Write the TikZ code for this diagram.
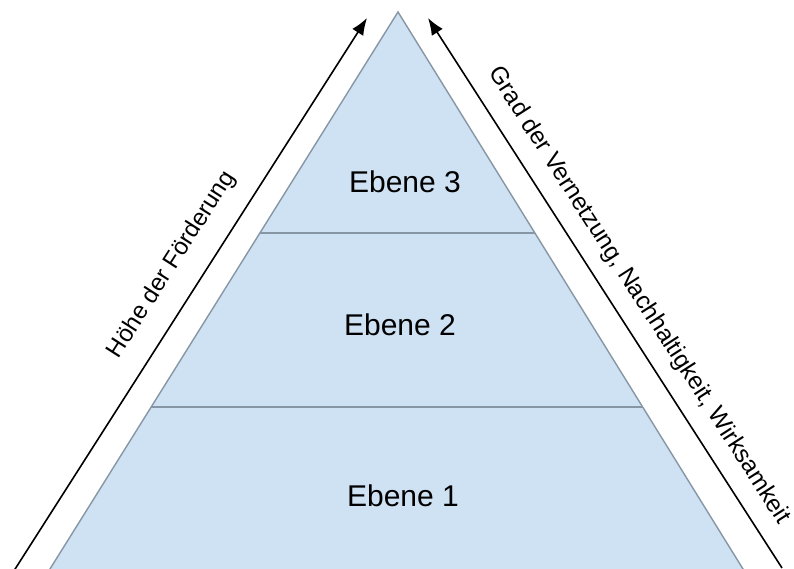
\documentclass[tikz,border=0pt]{standalone}
\usepackage{fontspec}
\setmainfont{Liberation Sans}
\usetikzlibrary{arrows.meta}
\definecolor{pyrfill}{HTML}{CFE2F3}
\definecolor{pyrline}{HTML}{8796A5}
\tikzset{
  level/.style={font=\fontsize{30}{34}\selectfont, anchor=base, inner sep=0pt},
  sidelabel/.style={anchor=base, inner sep=0pt},
  axisarrow/.style={line width=1.6pt, -{Latex[length=17pt,width=13pt]}},
  divider/.style={draw=pyrline, line width=1.8pt},
}
\begin{document}
\begin{tikzpicture}[x=1pt,y=1pt]
\useasboundingbox (0,0) rectangle (794,569);
\fill[white] (0,0) rectangle (794,569);
\clip (0,0) rectangle (794,569);
% pyramid
\coordinate (apex) at (398,557);
\coordinate (bl) at (43.1,-11);
\coordinate (br) at (749.8,-11);
\filldraw[fill=pyrfill, draw=pyrline, line width=1.4pt] (bl) -- (apex) -- (br) -- cycle;
% dividers
\coordinate (d1l) at (151.2,162);
\coordinate (d1r) at (642.7,162);
\coordinate (d2l) at (259.9,336);
\coordinate (d2r) at (534.9,336);
\draw[divider] (d1l) -- (d1r);
\draw[divider] (d2l) -- (d2r);
% level labels
\node[level] (e3) at (405,376) {Ebene 3};
\node[level] (e2) at (400,233) {Ebene 2};
\node[level] (e1) at (403,62) {Ebene 1};
% arrows
\coordinate (la0) at (10,-8);
\coordinate (la1) at (367,551);
\coordinate (ra0) at (782,1);
\coordinate (ra1) at (428,551);
\draw[axisarrow] (la0) -- (la1);
\draw[axisarrow] (ra0) -- (ra1);
% side labels
\node[sidelabel, rotate=57.4, font=\fontsize{24}{28}\selectfont] (lt) at (177,301) {Höhe der Förderung};
\node[sidelabel, rotate=-57.25, font=\fontsize{24.3}{28}\selectfont] (rt) at (633.5,270) {Grad der Vernetzung, Nachhaltigkeit, Wirksamkeit};
\end{tikzpicture}
\end{document}
